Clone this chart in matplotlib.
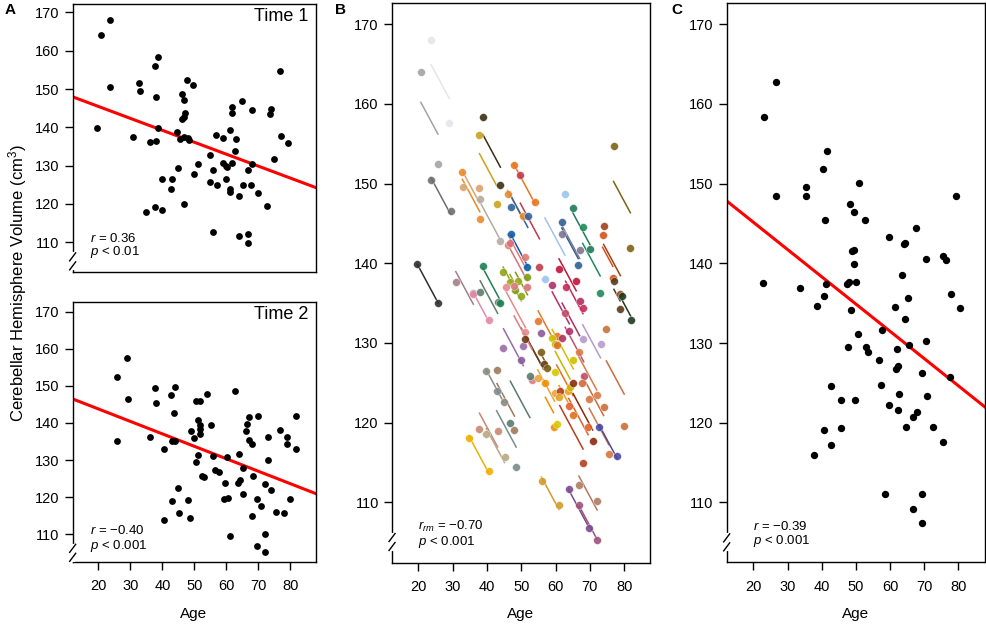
#-----------------------------------------------------------------------
#---- plot.py : cerebellar volume vs age (time 1, time 2, rm-corr, means)
#-----------------------------------------------------------------------

import numpy as np
import matplotlib
matplotlib.use("Agg")
import matplotlib.pyplot as plt
from matplotlib.transforms import IdentityTransform


age_t1 = [19.7, 20.7, 23.7, 23.6, 30.9, 33.0, 32.8, 34.8, 36.0, 37.8,
          38.8, 37.9, 38.0, 38.8, 37.8, 39.8, 39.8, 42.9, 42.8, 44.7,
          44.8, 46.0, 46.9, 46.0, 47.1, 46.8, 46.7, 48.3, 47.8, 49.7,
          45.5, 50.0, 51.0, 47.9, 46.8, 54.9, 55.8, 55.9, 54.8, 56.9,
          57.0, 59.9, 61.2, 61.0, 59.0, 59.0, 59.9, 60.3, 61.0, 61.8,
          61.9, 61.9, 62.9, 62.8, 63.8, 63.8, 65.0, 65.1, 66.7, 66.8,
          66.9, 67.7, 67.9, 67.9, 69.8, 72.7, 73.7, 74.0, 74.8, 76.9,
          77.0, 79.3]
vol_t1 = [139.9, 164.0, 168.0, 150.4, 137.6, 149.6, 151.5, 118.0, 136.1, 156.1,
          158.4, 148.0, 136.4, 139.7, 119.2, 126.5, 118.5, 126.6, 124.0, 138.9,
          129.3, 148.7, 147.1, 142.3, 143.7, 142.6, 137.6, 136.6, 152.3, 151.1,
          137.0, 127.9, 130.5, 137.2, 120.0, 132.8, 128.9, 112.6, 125.6, 138.0,
          125.0, 126.4, 123.9, 123.2, 137.3, 130.6, 129.9, 129.7, 139.3, 145.2,
          143.7, 130.6, 137.0, 133.8, 122.1, 111.7, 146.9, 125.0, 128.9, 112.1,
          109.7, 124.9, 130.5, 144.6, 122.9, 119.4, 143.5, 144.7, 131.7, 154.7,
          137.8, 135.9]
age_t2 = [25.7, 25.7, 29.0, 29.4, 36.0, 37.8, 37.9, 40.5, 40.5, 42.8,
          43.9, 43.7, 43.1, 43.9, 43.1, 44.9, 45.1, 48.0, 48.5, 50.0,
          50.6, 50.6, 51.9, 51.2, 51.7, 51.7, 48.9, 51.8, 53.9, 55.3,
          51.2, 55.8, 56.5, 53.1, 52.5, 60.3, 57.6, 61.0, 59.7, 62.7,
          59.4, 60.4, 68.0, 63.7, 64.0, 65.2, 64.2, 65.1, 66.0, 66.6,
          67.0, 67.0, 68.0, 68.2, 69.5, 69.6, 70.0, 70.8, 72.0, 72.1,
          72.0, 74.0, 73.1, 73.0, 75.5, 77.9, 76.7, 78.9, 80.0, 81.8,
          78.8, 81.9]
vol_t2 = [135.0, 152.4, 157.6, 146.5, 136.2, 149.4, 145.5, 113.9, 132.9, 147.4,
          149.8, 142.8, 135.1, 135.0, 118.9, 122.6, 115.7, 119.1, 114.4, 135.9,
          129.6, 145.9, 145.9, 140.8, 139.5, 137.0, 137.8, 138.3, 147.7, 139.5,
          131.4, 131.2, 127.3, 125.4, 125.8, 130.9, 126.8, 109.6, 123.7, 148.7,
          119.4, 119.8, 114.9, 123.9, 131.5, 127.8, 124.5, 120.9, 137.8, 139.8,
          141.6, 135.3, 134.4, 125.8, 119.4, 106.8, 141.8, 117.7, 123.5, 110.2,
          105.2, 121.9, 129.9, 136.3, 116.1, 115.8, 138.1, 136.1, 119.6, 141.9,
          134.2, 132.9]
subj_colors = ["#2e2e2e", "#a3a3a3", "#e6e6ea", "#6e6e6e", "#a57d86", "#d9a46c",
               "#e98a2a", "#eeb000", "#e38aab", "#c9a21c", "#3b2e14", "#b3aba3",
               "#5d7f6c", "#1e8050", "#c88770", "#8c8b80", "#b9a886", "#a0785a",
               "#7a8c8c", "#8fa31a", "#9a6aa8", "#e08a2a", "#3060a0", "#e07a72",
               "#0b5aa6", "#d9707a", "#9aa81a", "#7f9a10", "#e8741e", "#c0394a",
               "#e58a8a", "#8a5a9a", "#6a3a10", "#e07a80", "#5a7a70", "#e0782a",
               "#7a5a10", "#d49a2a", "#e9a23b", "#9ec3eb", "#f08c00", "#d6c800",
               "#b3401a", "#e8a020", "#b0306a", "#d0c000", "#c8b400", "#e07020",
               "#c0143c", "#2d5f96", "#7b7690", "#b0305a", "#c8285a", "#c0506a",
               "#e0602a", "#7a4a90", "#1f7a5a", "#8b2a0a", "#d87a48", "#b07a60",
               "#a0507a", "#d06a3a", "#b79acb", "#1f8a5a", "#d07840", "#4a4aa0",
               "#d8501a", "#a0401a", "#c8703a", "#7d6412", "#5a3a1a", "#1e3a20"]

#---- Panel C : subject means
age_mean = [23.2, 26.6, 26.6, 22.9, 35.4, 35.4, 33.6, 40.4, 41.5, 41.0,
            40.6, 38.7, 41.3, 51.0, 48.4, 49.4, 52.7, 48.8, 49.5, 49.4,
            47.4, 48.0, 49.9, 48.5, 59.8, 64.4, 64.1, 67.5, 63.5, 65.4,
            61.4, 64.4, 70.4, 75.4, 76.5, 79.4, 77.9, 80.6, 57.6, 50.6,
            47.8, 52.9, 53.7, 65.6, 70.5, 62.0, 56.8, 62.2, 61.8, 69.4,
            77.5, 42.6, 57.5, 62.6, 70.8, 45.6, 49.7, 59.6, 62.4, 68.0,
            66.8, 64.6, 72.7, 40.6, 45.8, 42.6, 75.4, 37.7, 58.6, 69.5,
            66.8, 69.5]
vol_mean = [158.3, 162.8, 148.5, 137.5, 149.6, 148.5, 136.9, 151.8, 154.1, 145.5,
            135.9, 134.6, 137.4, 150.1, 147.4, 146.5, 145.4, 141.5, 141.7, 139.9,
            137.4, 137.6, 137.7, 134.2, 143.3, 142.6, 142.4, 144.4, 138.6, 135.7,
            134.5, 133.0, 140.5, 140.9, 140.4, 148.4, 136.1, 134.4, 131.7, 131.2,
            129.5, 129.5, 128.9, 129.8, 130.2, 129.2, 127.9, 127.1, 126.7, 126.2,
            125.7, 124.6, 124.7, 123.6, 123.4, 122.9, 122.9, 122.2, 121.6, 121.4,
            120.7, 119.5, 119.5, 119.1, 119.3, 117.2, 117.6, 116.0, 111.1, 111.1,
            109.2, 107.4]

#---- Fitted lines (slope, intercept)
fit_t1 = (-0.312, 151.7)
fit_t2 = (-0.336, 150.5)
fit_mean = (-0.342, 152.0)
rm_slope = -0.80

#---- Stats labels
stat_t1 = [r"$r$ = 0.36", r"$p$ < 0.01"]
stat_t2 = [r"$r$ = $-$0.40", r"$p$ < 0.001"]
stat_rm = [r"$r_{rm}$ = $-$0.70", r"$p$ < 0.001"]
stat_mean = [r"$r$ = $-$0.39", r"$p$ < 0.001"]

y_ticks = [110, 120, 130, 140, 150, 160, 170]
x_ticks = [20, 30, 40, 50, 60, 70, 80]


#-----------------------------------------------------------------------
#---- Axis break marks ( // ) on the left spine
#-----------------------------------------------------------------------
def axisBreak(ax, yval):
    x0, y0 = ax.transData.transform((ax.get_xlim()[0], yval))
    ident = IdentityTransform()
    ax.plot([x0, x0], [y0 - 7, y0 + 7], color="white", lw=3,
            transform=ident, clip_on=False, zorder=6)
    for dy in (-4.5, 4.5):
        ax.plot([x0 - 3, x0 + 3], [y0 + dy - 4, y0 + dy + 4], color="black",
                lw=1.0, transform=ident, clip_on=False, zorder=7)


#-----------------------------------------------------------------------
#---- Common axes styling
#-----------------------------------------------------------------------
def styleAx(ax, xlim, ylim, show_x=True):
    ax.set_xlim(xlim)
    ax.set_ylim(ylim)
    ax.set_yticks(y_ticks)
    ax.set_xticks(x_ticks)
    ax.tick_params(axis="both", direction="out", length=5.5, width=1.0,
                   labelsize=10.5, colors="black")
    ax.tick_params(axis="y", pad=4)
    ax.tick_params(axis="x", pad=7)
    if not show_x:
        ax.tick_params(axis="x", bottom=False, labelbottom=False)
    for sp in ax.spines.values():
        sp.set_linewidth(1.0)


def statText(ax, lines, x_px, y_px):
    fig = ax.figure
    for i, s in enumerate(lines):
        fig.text(x_px / 986, 1 - y_px[i] / 624, s, fontsize=9.5,
                 ha="left", va="center")


#-----------------------------------------------------------------------
#---- Main script
#-----------------------------------------------------------------------
def main():

    plt.rcParams["font.family"] = ["Liberation Sans", "DejaVu Sans"]
    plt.rcParams["mathtext.fontset"] = "custom"
    plt.rcParams["mathtext.rm"] = "Liberation Sans"
    plt.rcParams["mathtext.it"] = "Liberation Sans:italic"

    fig = plt.figure(figsize=(9.86, 6.24), dpi=100)

    axA1 = fig.add_axes([0.0737, 0.5646, 0.2468, 0.4290])
    axA2 = fig.add_axes([0.0737, 0.0998, 0.2468, 0.4157])
    axB = fig.add_axes([0.3976, 0.0982, 0.2617, 0.8974])
    axC = fig.add_axes([0.7370, 0.0989, 0.2620, 0.8968])

    #---- Panel A : time 1
    styleAx(axA1, (12.0, 88.0), (102.3, 172.2), show_x=False)
    axA1.scatter(age_t1, vol_t1, s=24, color="black", linewidths=0, zorder=3)
    xx = np.array(axA1.get_xlim())
    axA1.plot(xx, fit_t1[0] * xx + fit_t1[1], color="#ff0000", lw=2.2, zorder=2)
    axA1.text(0.97, 0.985, "Time 1", transform=axA1.transAxes, fontsize=13,
              ha="right", va="top")

    #---- Panel A : time 2
    styleAx(axA2, (12.0, 88.0), (102.6, 172.5))
    axA2.scatter(age_t2, vol_t2, s=24, color="black", linewidths=0, zorder=3)
    xx = np.array(axA2.get_xlim())
    axA2.plot(xx, fit_t2[0] * xx + fit_t2[1], color="#ff0000", lw=2.2, zorder=2)
    axA2.text(0.97, 0.985, "Time 2", transform=axA2.transAxes, fontsize=13,
              ha="right", va="top")

    #---- Panel B : repeated measures, one colour per subject
    styleAx(axB, (12.3, 87.55), (102.4, 172.7))
    for i in range(len(age_t1)):
        a = np.array([age_t1[i], age_t2[i]])
        v = np.array([vol_t1[i], vol_t2[i]])
        xs = np.array([a.min(), a.max()])
        axB.plot(xs, v.mean() + rm_slope * (xs - a.mean()), color=subj_colors[i],
                 lw=1.1, zorder=2)
        axB.scatter(a, v, s=32, color=subj_colors[i], alpha=0.9,
                    edgecolors="white", linewidths=0.3, zorder=3)

    #---- Panel C : subject means
    styleAx(axC, (12.2, 87.8), (102.5, 172.7))
    axC.scatter(age_mean, vol_mean, s=28, color="black", linewidths=0, zorder=3)
    xx = np.array(axC.get_xlim())
    axC.plot(xx, fit_mean[0] * xx + fit_mean[1], color="#ff0000", lw=2.2, zorder=2)

    for ax in (axA1, axA2, axB, axC):
        axisBreak(ax, 105.0)

    #---- Stats
    statText(axA1, stat_t1, 90, [239, 252.5])
    statText(axA2, stat_t2, 90, [530.5, 546])
    statText(axB, stat_rm, 418, [526, 542.5])
    statText(axC, stat_mean, 753, [526.5, 541])

    #---- Labels
    fig.text(0.018, 1 - 283 / 624, r"Cerebellar Hemisphere Volume (cm$^3$)",
             rotation=90, fontsize=12, ha="center", va="center")
    for xc in (194, 521, 856):
        fig.text(xc / 986, 1 - 614 / 624, "Age", fontsize=11,
                 ha="center", va="center")
    for lab, xp, yp in (("A", 10, 10), ("B", 341, 10), ("C", 677, 10)):
        fig.text(xp / 986, 1 - yp / 624, lab, fontsize=11, fontweight="bold",
                 ha="center", va="center")

    fig.savefig("out.png", dpi=100)


#-----------------------------------------------------------------------
if __name__ == "__main__":
    main()
